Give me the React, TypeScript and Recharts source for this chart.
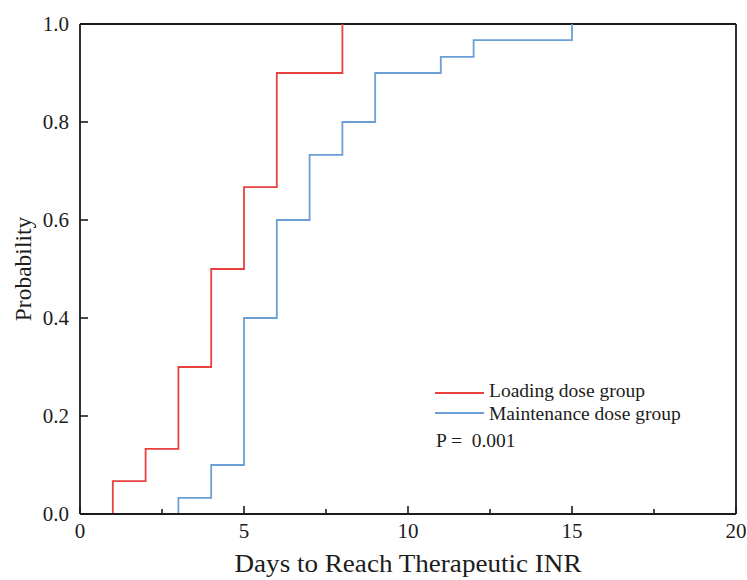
import { LineChart, Line, XAxis, YAxis, ReferenceLine, Legend } from 'recharts'

// Cumulative probability of reaching therapeutic INR, by day
const loadingDays = [1, 1, 2, 3, 4, 5, 6, 8]
const loadingProb = [0, 0.067, 0.133, 0.3, 0.5, 0.667, 0.9, 1.0]

const maintenanceDays = [3, 3, 4, 5, 6, 7, 8, 9, 11, 12, 15]
const maintenanceProb = [0, 0.033, 0.1, 0.4, 0.6, 0.733, 0.8, 0.9, 0.933, 0.967, 1.0]

const xTicks = [0, 2.5, 5, 7.5, 10, 12.5, 15, 17.5, 20]
const yTicks = [0, 0.2, 0.4, 0.6, 0.8, 1.0]

const RED = '#E8413F'
const BLUE = '#6B9FD6'
const INK = '#1c1c1c'
const FONT = "'Liberation Serif', 'Times New Roman', serif"

const loadingData = loadingDays.map((x, i) => ({ x, y: loadingProb[i] }))
const maintenanceData = maintenanceDays.map((x, i) => ({ x, y: maintenanceProb[i] }))

function XTick({ x, y, payload }: any) {
  const major = payload.value % 5 === 0
  return (
    <g>
      <line x1={x} x2={x} y1={y} y2={y - (major ? 8 : 5)} stroke={INK} strokeWidth={1.6} />
      {major && (
        <text x={x} y={y + 24} textAnchor="middle" fontFamily={FONT} fontSize={21} fill={INK}>
          {payload.value}
        </text>
      )}
    </g>
  )
}

function YTick({ x, y, payload }: any) {
  return (
    <g>
      <line x1={x} x2={x + 8} y1={y} y2={y} stroke={INK} strokeWidth={1.6} />
      <text x={x - 11} y={y + 7} textAnchor="end" fontFamily={FONT} fontSize={21} fill={INK}>
        {Number(payload.value).toFixed(1)}
      </text>
    </g>
  )
}

function LegendBox() {
  const text = { position: 'absolute' as const, lineHeight: '20px', whiteSpace: 'pre' as const }
  return (
    <div style={{ position: 'relative', width: 310, height: 80, fontFamily: FONT, fontSize: 19.5, color: INK }}>
      <div style={{ position: 'absolute', left: 5, top: 14, width: 49, height: 2, background: RED }} />
      <span style={{ ...text, left: 59, top: 3 }}>Loading dose group</span>
      <div style={{ position: 'absolute', left: 5, top: 34, width: 49, height: 2, background: BLUE }} />
      <span style={{ ...text, left: 59, top: 26 }}>Maintenance dose group</span>
      <span style={{ ...text, left: 6, top: 53 }}>P =  0.001</span>
    </div>
  )
}

export default function App() {
  return (
    <div style={{ position: 'absolute', left: 0, top: 0, background: '#fff' }}>
      <LineChart width={747} height={580} margin={{ top: 24, right: 11, bottom: 6, left: 10 }}>
        <XAxis
          type="number"
          dataKey="x"
          domain={[0, 20]}
          ticks={xTicks}
          interval={0}
          height={60}
          tickSize={0}
          tickMargin={0}
          tickLine={false}
          tick={<XTick />}
          axisLine={{ stroke: INK, strokeWidth: 1.8 }}
          allowDataOverflow
          label={{
            content: ({ viewBox }: any) => (
              <text
                x={viewBox.x + viewBox.width / 2}
                y={viewBox.y + 58}
                textAnchor="middle"
                fontFamily={FONT}
                fontSize={25}
                fill={INK}
                textLength={347}
                lengthAdjust="spacingAndGlyphs"
              >
                Days to Reach Therapeutic INR
              </text>
            ),
          }}
        />
        <YAxis
          type="number"
          domain={[0, 1]}
          ticks={yTicks}
          interval={0}
          width={70}
          tickSize={0}
          tickMargin={0}
          tickLine={false}
          tick={<YTick />}
          axisLine={{ stroke: INK, strokeWidth: 1.8 }}
          allowDataOverflow
          label={{
            content: ({ viewBox }: any) => {
              const cx = viewBox.x + 13
              const cy = viewBox.y + viewBox.height / 2
              return (
                <text
                  x={cx}
                  y={cy}
                  transform={`rotate(-90 ${cx} ${cy})`}
                  textAnchor="middle"
                  dominantBaseline="central"
                  fontFamily={FONT}
                  fontSize={23.5}
                  fill={INK}
                >
                  Probability
                </text>
              )
            },
          }}
        />
        <ReferenceLine y={1} stroke={INK} strokeWidth={1.8} />
        <ReferenceLine x={20} stroke={INK} strokeWidth={1.8} />
        <Line
          data={loadingData}
          dataKey="y"
          type="stepAfter"
          stroke={RED}
          strokeWidth={1.8}
          dot={false}
          activeDot={false}
          isAnimationActive={false}
        />
        <Line
          data={maintenanceData}
          dataKey="y"
          type="stepAfter"
          stroke={BLUE}
          strokeWidth={1.8}
          dot={false}
          activeDot={false}
          isAnimationActive={false}
        />
        <Legend
          layout="vertical"
          align="center"
          verticalAlign="middle"
          content={() => <LegendBox />}
          wrapperStyle={{ left: 430, top: 378, width: 310 }}
        />
      </LineChart>
    </div>
  )
}
